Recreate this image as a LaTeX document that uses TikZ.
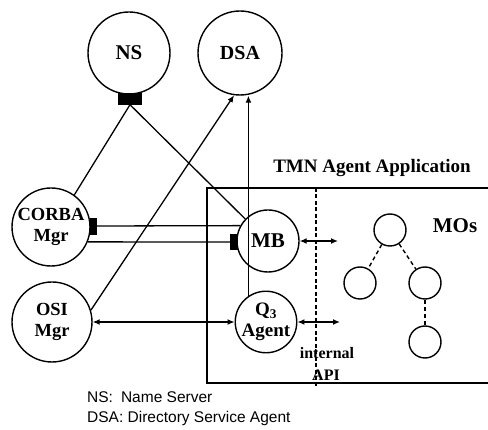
\documentclass[tikz,border=0pt]{standalone}
\usepackage{fontspec}
\setmainfont{Liberation Serif}
\newfontfamily\legendfont{Liberation Sans}
\usetikzlibrary{arrows.meta}
\tikzset{
  ent/.style={draw, circle, line width=1.4pt, inner sep=0pt, font=\bfseries, align=center},
  mo/.style={draw, circle, line width=1.4pt, inner sep=0pt, minimum size=32pt},
  port/.style={draw, fill=black, inner sep=0pt},
  link/.style={line width=1.3pt},
  arr/.style={line width=1.3pt, -{Latex[length=7pt,width=6pt]}},
  darr/.style={line width=1.3pt, {Latex[length=7pt,width=6pt]}-{Latex[length=7pt,width=6pt]}},
  modash/.style={line width=1.4pt, dash pattern=on 4pt off 3pt},
  lbl/.style={font=\bfseries, inner sep=0pt}
}
\begin{document}
\begin{tikzpicture}[x=1pt,y=-1pt]
\useasboundingbox (0,0) rectangle (488,430);
% nodes
\node[ent, minimum size=82pt, font=\fontsize{21}{23}\selectfont\bfseries] (NS) at (129,53) {NS};
\node[ent, minimum size=84pt, font=\fontsize{20}{22}\selectfont\bfseries] (DSA) at (240,53) {DSA};
\node[ent, minimum size=78pt, font=\fontsize{18.5}{21}\selectfont\bfseries] (CORBA) at (51,227) {CORBA\\Mgr};
\node[ent, minimum size=80pt, font=\fontsize{18.5}{21}\selectfont\bfseries] (OSI) at (52,322) {OSI\\Mgr};
\node[ent, minimum size=62pt, font=\fontsize{21}{23}\selectfont\bfseries] (MB) at (268,241) {MB};
\node[ent, minimum size=60pt, font=\fontsize{19}{21}\selectfont\bfseries] (Q3) at (266,322) {Q\textsubscript{3}\\Agent};
% ports
\node[port, minimum width=23pt, minimum height=11pt] (nsport) at (130,99) {};
\node[port, minimum width=6pt, minimum height=16pt] (cport) at (93,226) {};
\node[port, minimum width=7pt, minimum height=15pt] (mport) at (234,242) {};
% MOs
\node[mo] (mo1) at (390,230) {};
\node[mo] (mo2) at (360,283) {};
\node[mo] (mo3) at (425,283) {};
\node[mo] (mo4) at (425,342) {};
\draw[modash] (mo1) -- (mo2);
\draw[modash] (mo1) -- (mo3);
\draw[modash] (mo3) -- (mo4);
% box
\draw[line width=2pt] (489,188) -- (207,188) -- (207,383) -- (489,383);
\coordinate (apitop) at (316,188);
\coordinate (apibot) at (316,386);
\draw[line width=1.4pt, dash pattern=on 4pt off 2.5pt] (apitop) -- (apibot);
% labels
\node[lbl, font=\fontsize{19}{21}\selectfont\bfseries] (tmn) at (372,168) {TMN Agent Application};
\node[lbl, font=\fontsize{21}{23}\selectfont\bfseries] (mos) at (455,226) {MOs};
\node[lbl, font=\fontsize{16}{18}\selectfont\bfseries] (int) at (327,353) {internal};
\node[lbl, font=\fontsize{16}{18}\selectfont\bfseries] (api) at (326,375) {API};
% connectors
\draw[link] (nsport.south) -- (CORBA.54.5);
\draw[link] (nsport.south) -- (MB.136);
\draw[link] (cport.east) -- (MB.151);
\draw[link] (CORBA.-22.6) -- (mport.west);
\draw[arr] (OSI.17) -- (DSA.-98);
\draw[arr] (Q3.124.5) -- (Q3.124.5 |- DSA.south);
\draw[darr] (OSI.east) -- (Q3.west);
\coordinate (mbend) at (338,241);
\coordinate (q3end) at (340,322);
\draw[darr] (MB.east) -- (mbend);
\draw[darr] (Q3.east) -- (q3end);
% legend
\node[anchor=west, inner sep=0pt, font=\legendfont\fontsize{15.5}{17}\selectfont] (leg1) at (87,397) {NS:\hspace{8pt}Name Server};
\node[anchor=west, inner sep=0pt, font=\legendfont\fontsize{15.5}{17}\selectfont] (leg2) at (87,418) {DSA: Directory Service Agent};
\end{tikzpicture}
\end{document}
